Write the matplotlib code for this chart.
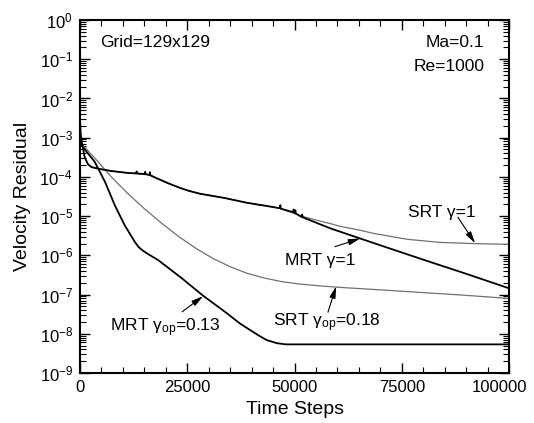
import numpy as np
import matplotlib
matplotlib.use("Agg")
import matplotlib.pyplot as plt
from matplotlib.ticker import LogLocator, MultipleLocator, NullFormatter
from matplotlib.transforms import ScaledTranslation

plt.rcParams['font.family'] = ['Liberation Sans', 'DejaVu Sans']
plt.rcParams['mathtext.fontset'] = 'custom'
plt.rcParams['mathtext.rm'] = 'Liberation Sans'
plt.rcParams['mathtext.it'] = 'Liberation Sans:italic'

# ---------------------------------------------------------------
# residual histories (time step, log10 of velocity residual)
# ---------------------------------------------------------------
mrt1_t = [0, 150, 400, 1100, 1860, 2700, 4200, 7300, 11200,
          13100, 13200, 13300, 15100, 15200, 15300, 16200, 16300, 16400,
          18000, 20500, 23300, 25200, 28000, 33800, 38900, 44000,
          46600, 46700, 46800, 49700, 49800, 49900, 50100, 50200, 50300,
          51300, 51700, 51800, 51900, 58300, 65300, 69900, 80000, 90000, 100000]
mrt1_log = [-2.5, -2.9, -3.1, -3.50, -3.68, -3.75, -3.79, -3.85, -3.90,
            -3.91, -3.86, -3.91, -3.93, -3.87, -3.93, -3.95, -3.88, -3.96,
            -4.04, -4.16, -4.28, -4.35, -4.43, -4.54, -4.66, -4.75,
            -4.80, -4.72, -4.81, -4.90, -4.83, -4.91, -4.92, -4.85, -4.93,
            -5.00, -5.02, -4.96, -5.03, -5.31, -5.57, -5.74, -6.11, -6.47, -6.84]

srt1_t = [0, 150, 400, 1100, 1860, 2700, 4200, 7300, 11200, 16200, 18000,
          20500, 23300, 25200, 28000, 33800, 38900, 44000, 46600, 51300,
          55000, 58300, 60600, 65300, 68400, 76200, 83900, 91700, 100000]
srt1_log = [-2.5, -2.9, -3.1, -3.50, -3.68, -3.75, -3.79, -3.85, -3.90, -3.95, -4.04,
            -4.16, -4.28, -4.35, -4.43, -4.54, -4.66, -4.75, -4.80, -4.99,
            -5.10, -5.19, -5.26, -5.36, -5.44, -5.59, -5.67, -5.70, -5.72]

srt_op_t = [0, 300, 4200, 7300, 11200, 15100, 19000, 23000, 27000, 31000,
            35000, 39000, 43000, 47000, 51000, 56000, 61000, 70000, 80000, 90000, 100000]
srt_op_log = [-2.95, -3.15, -3.61, -4.0, -4.43, -4.82, -5.18, -5.52, -5.82, -6.08,
              -6.29, -6.46, -6.58, -6.67, -6.73, -6.78, -6.82, -6.88, -6.95, -7.02, -7.10]

mrt_op_t = [0, 300, 3400, 5800, 8100, 10400, 12800, 13600, 14400, 15200, 15900, 18200,
            23800, 28700, 33800, 37300, 41600, 43500, 45900, 48000, 100000]
mrt_op_log = [-2.95, -3.19, -3.61, -4.12, -4.72, -5.23, -5.66, -5.78, -5.86, -5.92, -5.97, -6.12,
              -6.59, -7.03, -7.44, -7.74, -8.04, -8.16, -8.24, -8.27, -8.27]

x_ticks = [0, 25000, 50000, 75000, 100000]

fig = plt.figure(figsize=(5.34, 4.23), dpi=100)
ax = fig.add_axes([0.1498, 0.1182, 0.8034, 0.8345])

gray = '#707070'
ax.plot(srt1_t, 10.0 ** np.array(srt1_log), color=gray, lw=0.9)
ax.plot(srt_op_t, 10.0 ** np.array(srt_op_log), color=gray, lw=0.9)
ax.plot(mrt1_t, 10.0 ** np.array(mrt1_log), color='black', lw=1.3)
ax.plot(mrt_op_t, 10.0 ** np.array(mrt_op_log), color='black', lw=1.3)

ax.set_yscale('log')
ax.set_xlim(0, 100000)
ax.set_ylim(1e-9, 1)
ax.set_xticks(x_ticks)
ax.xaxis.set_minor_locator(MultipleLocator(5000))
ax.yaxis.set_major_locator(LogLocator(base=10, numticks=12))
ax.yaxis.set_minor_locator(LogLocator(base=10, subs=np.arange(2, 10), numticks=12))
ax.yaxis.set_minor_formatter(NullFormatter())

ax.tick_params(which='both', direction='in', top=True, right=True, labelsize=12)
ax.tick_params(which='major', length=7, width=1.0, pad=5)
ax.tick_params(which='minor', length=4, width=0.8)
for sp in ax.spines.values():
    sp.set_linewidth(1.5)

# nudge the last x label so it stays inside the figure
last = ax.xaxis.get_major_ticks()[-1].label1
last.set_transform(last.get_transform() + ScaledTranslation(-0.1, 0, fig.dpi_scale_trans))

ax.set_xlabel('Time Steps', fontsize=14, labelpad=4)
ax.set_ylabel('Velocity Residual', fontsize=14, labelpad=6)

# case info
ax.text(0.047, 0.935, 'Grid=129x129', transform=ax.transAxes, fontsize=12.5, va='center')
ax.text(0.942, 0.935, 'Ma=0.1', transform=ax.transAxes, fontsize=12.5, va='center', ha='right')
ax.text(0.942, 0.867, 'Re=1000', transform=ax.transAxes, fontsize=12.5, va='center', ha='right')

# curve labels with arrows: (text, text pos, arrow tail, arrow tip)
labels = [
    ('SRT γ=1', (76500, -5.03), (88100, -5.03), (92100, -5.69)),
    ('MRT γ=1', (47800, -6.25), (59400, -5.78), (65300, -5.57)),
    ('SRT γ$_{\\rm op}$=0.18', (45000, -7.81), (57800, -7.45), (59700, -6.79)),
    ('MRT γ$_{\\rm op}$=0.13', (7000, -7.93), (23800, -7.44), (28700, -7.04)),
]
for txt, (tx, ty), (ax0, ay0), (ax1, ay1) in labels:
    ax.text(tx, 10 ** ty, txt, fontsize=12.5, va='baseline', ha='left')
    ax.annotate('', xy=(ax1, 10 ** ay1), xytext=(ax0, 10 ** ay0),
                arrowprops=dict(arrowstyle='-|>,head_length=0.7,head_width=0.18',
                                color='black', lw=0.8, shrinkA=0, shrinkB=0))

fig.savefig('out.png', dpi=100)
